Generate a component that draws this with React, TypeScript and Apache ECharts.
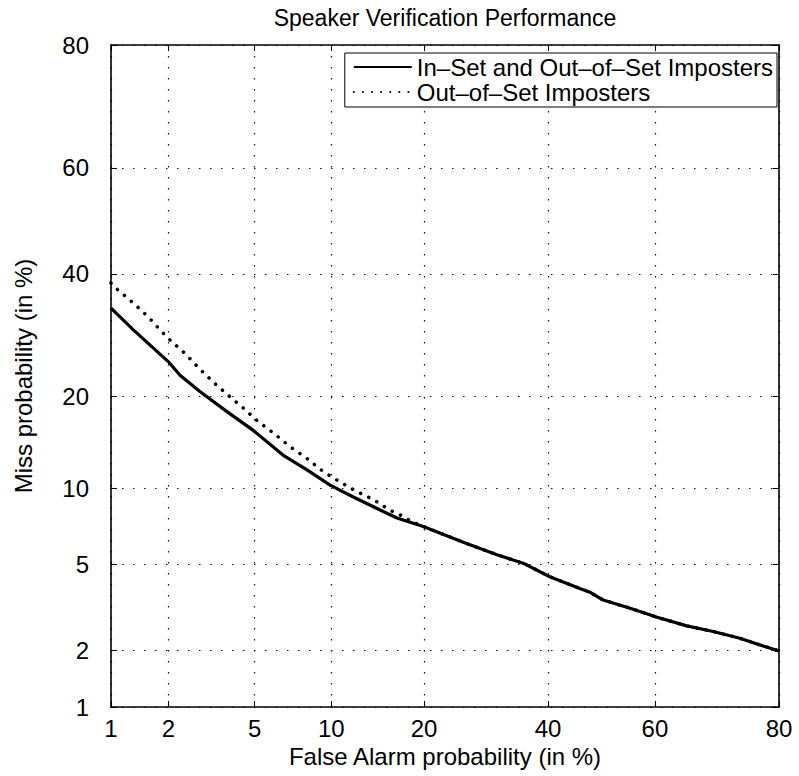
import React, { useEffect, useRef } from "react";
import * as echarts from "echarts";

// Tick labels (percent) used on both probit-scaled axes
const TICKS = [1, 2, 5, 10, 20, 40, 60, 80];

// Solid curve: In-Set and Out-of-Set Imposters
const solidFA = [1, 1.32, 2.0, 2.28, 2.84, 3.77, 4.93, 6.56, 8.1, 9.9, 12.0, 14.3, 16.6, 19.8, 25.6, 31.0, 35.5, 40.3, 45.9, 47.8, 50.3, 55.4, 60.4, 65.7, 70.2, 74.4, 77.4, 80];
const solidMiss = [33.8, 30.1, 25.0, 23.0, 20.7, 18.1, 15.8, 13.1, 11.7, 10.3, 9.3, 8.45, 7.75, 7.2, 6.2, 5.5, 5.07, 4.43, 3.93, 3.78, 3.48, 3.19, 2.89, 2.63, 2.47, 2.29, 2.12, 1.98];

// Dotted curve: Out-of-Set Imposters
const dotFA = [1, 1.07, 1.32, 1.58, 1.85, 2.04, 2.41, 2.84, 3.34, 3.9, 4.4, 5.1, 5.98, 6.98, 8.1, 9.35, 10.7, 12.3, 14.0, 15.8, 17.0, 18.4, 19.8, 25.6, 31.0, 35.5, 40.3, 45.9, 47.8, 50.3, 55.4, 60.4, 65.7, 70.2, 74.4, 77.4, 80];
const dotMiss = [38.3, 37.3, 34.7, 32.3, 29.8, 28.4, 26.3, 23.9, 21.8, 20.0, 18.7, 17.0, 15.5, 14.0, 12.8, 11.5, 10.6, 9.75, 9.1, 8.3, 7.96, 7.5, 7.2, 6.2, 5.5, 5.07, 4.43, 3.93, 3.78, 3.48, 3.19, 2.89, 2.63, 2.47, 2.29, 2.12, 1.98];

const SERIES_NAMES = ["In\u2013Set and Out\u2013of\u2013Set Imposters", "Out\u2013of\u2013Set Imposters"];
const TITLE = "Speaker Verification Performance";
const X_NAME = "False Alarm probability (in %)";
const Y_NAME = "Miss probability (in %)";

// Inverse standard normal CDF (Acklam)
function probit(p: number): number {
  const a = [-3.969683028665376e1, 2.209460984245205e2, -2.759285104469687e2, 1.38357751867269e2, -3.066479806614716e1, 2.506628277459239];
  const b = [-5.447609879822406e1, 1.615858368580409e2, -1.556989798598866e2, 6.680131188771972e1, -1.328068155288572e1];
  const c = [-7.784894002430293e-3, -3.223964580411365e-1, -2.400758277161838, -2.549732539343734, 4.374664141464968, 2.938163982698783];
  const d = [7.784695709041462e-3, 3.224671290700398e-1, 2.445134137142996, 3.754408661907416];
  const plow = 0.02425;
  const phigh = 1 - plow;
  if (p < plow) {
    const q = Math.sqrt(-2 * Math.log(p));
    return (((((c[0] * q + c[1]) * q + c[2]) * q + c[3]) * q + c[4]) * q + c[5]) / ((((d[0] * q + d[1]) * q + d[2]) * q + d[3]) * q + 1);
  }
  if (p <= phigh) {
    const q = p - 0.5;
    const r = q * q;
    return ((((((a[0] * r + a[1]) * r + a[2]) * r + a[3]) * r + a[4]) * r + a[5]) * q) / (((((b[0] * r + b[1]) * r + b[2]) * r + b[3]) * r + b[4]) * r + 1);
  }
  const q = Math.sqrt(-2 * Math.log(1 - p));
  return -(((((c[0] * q + c[1]) * q + c[2]) * q + c[3]) * q + c[4]) * q + c[5]) / ((((d[0] * q + d[1]) * q + d[2]) * q + d[3]) * q + 1);
}

const toZ = (pct: number) => probit(pct / 100);
const tickZ = TICKS.map(toZ);
const fmt = (v: number) => {
  for (let i = 0; i < tickZ.length; i++) {
    if (Math.abs(tickZ[i] - v) < 1e-6) return String(TICKS[i]);
  }
  return "";
};

const FONT = "'Liberation Sans', Arial, Helvetica, sans-serif";

export default function App() {
  const ref = useRef<HTMLDivElement>(null);
  useEffect(() => {
    if (!ref.current) return;
    const chart = echarts.init(ref.current, undefined, { renderer: "svg" });
    const zMin = tickZ[0];
    const zMax = tickZ[tickZ.length - 1];
    const gridLine = { show: true, lineStyle: { color: "#111", width: 1.2, type: [1.5, 9.5] as any } };
    const mainLabel = {
      customValues: tickZ,
      formatter: fmt,
      color: "#000",
      fontSize: 24,
      fontFamily: FONT,
      showMinLabel: true,
      showMaxLabel: true,
    };
    const tick = { show: true, inside: true, length: 6, customValues: tickZ, lineStyle: { color: "#000", width: 1 } };
    const axisLine = { show: true, onZero: false, lineStyle: { color: "#000", width: 1.6 } };
    const option: any = {
      animation: false,
      backgroundColor: "#fff",
      grid: { left: 111, right: 20, top: 45, bottom: 69, containLabel: false },
      graphic: [
        {
          type: "text",
          x: 445,
          y: 18,
          style: { text: TITLE, font: `23px ${FONT}`, fill: "#000", align: "center", verticalAlign: "middle" },
        },
      ],
      legend: {
        data: SERIES_NAMES,
        orient: "vertical",
        right: 22,
        top: 53,
        itemWidth: 58,
        itemHeight: 14,
        itemGap: 1,
        backgroundColor: "#fff",
        borderColor: "#000",
        borderWidth: 1,
        borderRadius: 0,
        padding: [2, 4, 3, 8],
        itemStyle: { opacity: 0 },
        textStyle: { fontSize: 24, color: "#000", fontFamily: FONT, lineHeight: 24 },
      },
      xAxis: [
        {
          type: "value",
          position: "bottom",
          min: zMin,
          max: zMax,
          axisLine,
          axisTick: tick,
          axisLabel: { ...mainLabel, margin: 9 },
          splitLine: gridLine,
          name: X_NAME,
          nameLocation: "middle",
          nameGap: 33,
          nameTextStyle: { fontSize: 24, color: "#000", fontFamily: FONT },
        },
        {
          type: "value",
          position: "top",
          min: zMin,
          max: zMax,
          axisLine,
          axisTick: tick,
          axisLabel: { show: false },
          splitLine: { show: false },
        },
      ],
      yAxis: [
        {
          type: "value",
          position: "left",
          min: zMin,
          max: zMax,
          axisLine,
          axisTick: tick,
          axisLabel: { ...mainLabel, margin: 22 },
          splitLine: gridLine,
          name: Y_NAME,
          nameLocation: "middle",
          nameGap: 76,
          nameTextStyle: { fontSize: 24, color: "#000", fontFamily: FONT },
        },
        {
          type: "value",
          position: "right",
          min: zMin,
          max: zMax,
          axisLine,
          axisTick: tick,
          axisLabel: { show: false },
          splitLine: { show: false },
        },
      ],
      series: [
        {
          name: SERIES_NAMES[1],
          type: "line",
          xAxisIndex: 0,
          yAxisIndex: 0,
          symbol: "none",
          showSymbol: false,
          z: 2,
          data: dotFA.map((x, i) => [toZ(x), toZ(dotMiss[i])]),
          lineStyle: { color: "#000", width: 3.5, type: [0.1, 9], cap: "round" },
          itemStyle: { color: "#000" },
        },
        {
          name: SERIES_NAMES[0],
          type: "line",
          xAxisIndex: 0,
          yAxisIndex: 0,
          symbol: "none",
          showSymbol: false,
          z: 3,
          data: solidFA.map((x, i) => [toZ(x), toZ(solidMiss[i])]),
          lineStyle: { color: "#000", width: 3.2 },
          itemStyle: { color: "#000" },
        },
      ],
    };
    chart.setOption(option);
    return () => chart.dispose();
  }, []);
  return <div ref={ref} style={{ position: "absolute", left: 0, top: 0, width: 799, height: 776 }} />;
}
